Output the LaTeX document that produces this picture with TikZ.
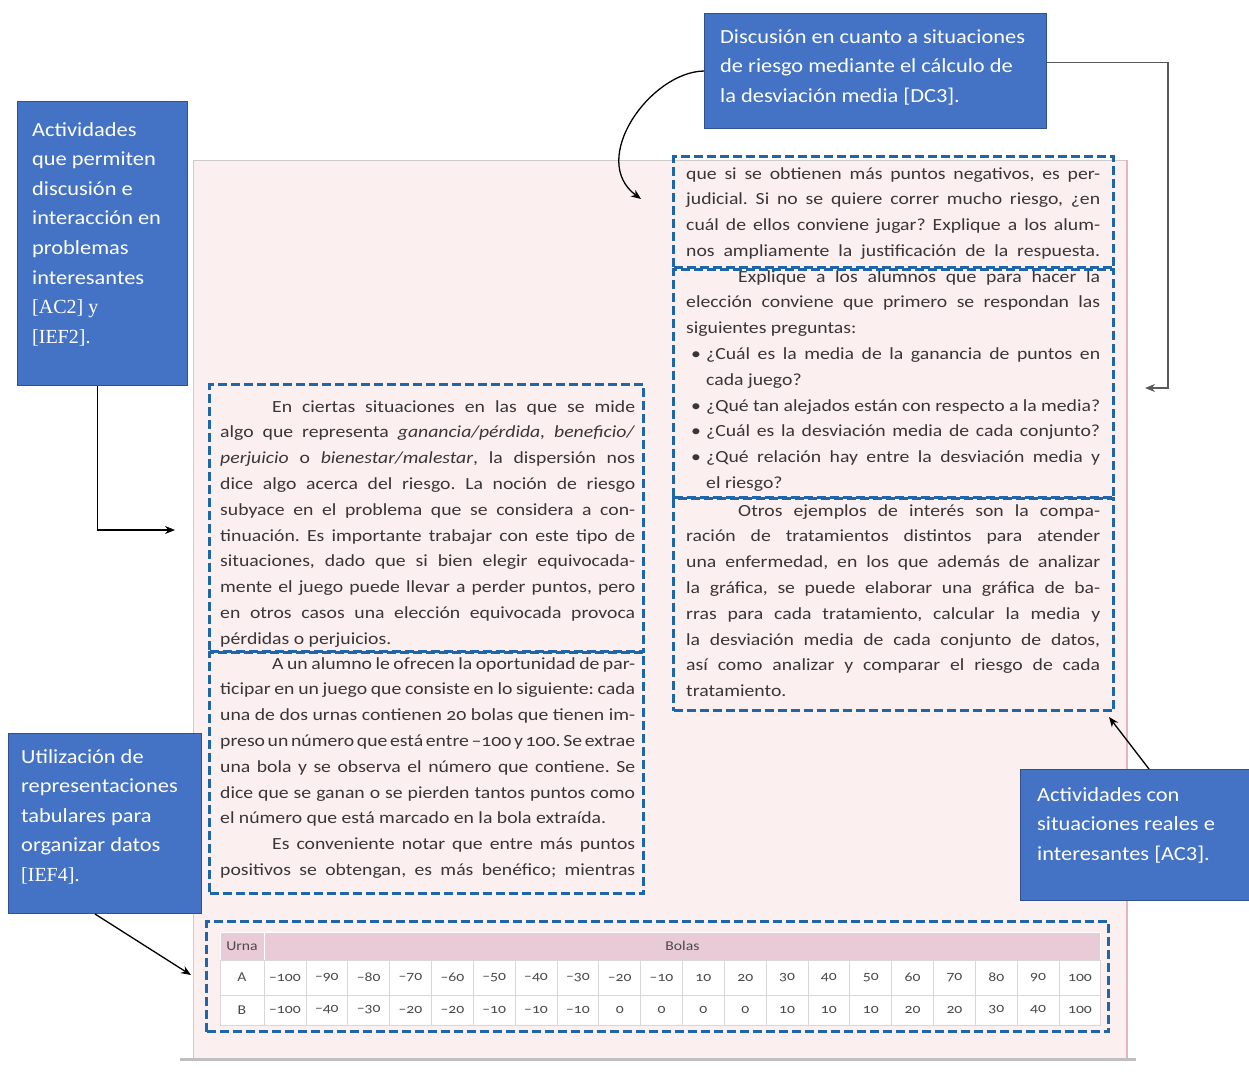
\documentclass[tikz,border=0pt]{standalone}
\usepackage{fontspec}
\setmainfont{Carlito}[Numbers=OldStyle,FakeStretch=1.16]
\newfontfamily\boxfont{Carlito}[FakeStretch=1.12]
\newfontfamily\boxserif{Liberation Serif}
\usetikzlibrary{arrows.meta}
\definecolor{boxblue}{HTML}{4472C4}
\definecolor{boxedge}{HTML}{2F528F}
\definecolor{dashblue}{HTML}{1F65AA}
\definecolor{pagepink}{HTML}{FCEFF0}
\definecolor{headpink}{HTML}{E9CAD7}
\definecolor{bodytext}{HTML}{3A3536}
\definecolor{rimpink}{HTML}{E6B3C3}
\definecolor{cellline}{HTML}{D8D8D8}
\definecolor{celltext}{HTML}{4A4A4A}
\newdimen\myw
\newcommand\myJ[1]{\hbox to \myw{#1}}
\newcommand\myC[1]{\hbox to \myw{\spaceskip=0.16em plus 1em minus 0.05em\relax #1}}
\newcommand\myL[1]{\hbox to \myw{#1\hfil}}
\newcommand\myI{\hskip52pt\relax}
\newcommand\myB{\hbox to 20pt{\hskip5pt•\hfil}}
\begin{document}
\begin{tikzpicture}[x=1pt,y=-1pt,
  para/.style={inner sep=0pt, anchor=base west, text=bodytext, font=\fontsize{17}{25.8}\selectfont\frenchspacing},
  dbox/.style={draw=dashblue, line width=3pt, dash pattern=on 9pt off 4pt, anchor=north west, inner sep=0pt},
  bluebox/.style={fill=boxblue, draw=boxedge, line width=1pt, anchor=north west, inner sep=0pt},
  btext/.style={inner sep=0pt, anchor=base west, text=white, font=\boxfont\fontsize{20}{29.6}\selectfont},
  cell/.style={draw=cellline, fill=white, line width=0.8pt, inner sep=0pt, text=celltext, font=\fontsize{13.5}{14}\selectfont, minimum width=41.84pt},
  hcell/.style={draw=white, fill=headpink, line width=0.8pt, inner sep=0pt, text=celltext, font=\fontsize{13.5}{14}\selectfont, minimum height=28pt},
  conn/.style={black, line width=1.3pt, -{Stealth[length=10pt,width=8pt]}},
  conn2/.style={black!65, line width=1.8pt, -{Stealth[length=10pt,width=8pt]}}
]
\useasboundingbox (0,0) rectangle (1249,1076);
% page
\fill[pagepink] (193,160) rectangle (1128,1058);
\draw[black!20, line width=1pt] (193,1058) -- (193,160) -- (1128,160);
\draw[rimpink, line width=1.5pt] (1127,160) -- (1127,1058);
\draw[black!25, line width=3pt] (180,1059) -- (1136,1059);

% paragraphs
\node[para] (pA) at (220,412) {\myw=415pt\vtop{%
\myJ{\myI En ciertas situaciones en las que se mide}
\myJ{algo que representa \textit{ganancia/pérdida, beneficio/}}
\myJ{\textit{perjuicio} o \textit{bienestar/malestar}, la dispersión nos}
\myJ{dice algo acerca del riesgo. La noción de riesgo}
\myJ{subyace en el problema que se considera a con-}
\myJ{tinuación. Es importante trabajar con este tipo de}
\myJ{situaciones, dado que si bien elegir equivocada-}
\myC{mente el juego puede llevar a perder puntos, pero}
\myJ{en otros casos una elección equivocada provoca}
\myL{pérdidas o perjuicios.}}};

\node[para] (pB) at (220,669) {\myw=415pt\vtop{%
\myC{\myI A un alumno le ofrecen la oportunidad de par-}
\myC{ticipar en un juego que consiste en lo siguiente: cada}
\myC{una de dos urnas contienen 20 bolas que tienen im-}
\myC{preso un número que está entre –100 y 100. Se extrae}
\myJ{una bola y se observa el número que contiene. Se}
\myJ{dice que se ganan o se pierden tantos puntos como}
\myL{el número que está marcado en la bola extraída.}
\myJ{\myI Es conveniente notar que entre más puntos}
\myJ{positivos se obtengan, es más benéfico; mientras}}};

\node[para] (pC) at (686,179) {\myw=414pt\vtop{%
\myJ{que si se obtienen más puntos negativos, es per-}
\myJ{judicial. Si no se quiere correr mucho riesgo, ¿en}
\myJ{cuál de ellos conviene jugar? Explique a los alum-}
\myJ{nos ampliamente la justificación de la respuesta.}}};

\node[para] (pD) at (686,282) {\myw=414pt\vtop{%
\myJ{\myI Explique a los alumnos que para hacer la}
\myJ{elección conviene que primero se respondan las}
\myL{siguientes preguntas:}
\myJ{\myB ¿Cuál es la media de la ganancia de puntos en}
\myL{\hskip20pt cada juego?}
\myC{\myB ¿Qué tan alejados están con respecto a la media?}
\myJ{\myB ¿Cuál es la desviación media de cada conjunto?}
\myJ{\myB ¿Qué relación hay entre la desviación media y}
\myL{\hskip20pt el riesgo?}}};

\node[para] (pE) at (686,516) {\myw=414pt\vtop{%
\myJ{\myI Otros ejemplos de interés son la compa-}
\myJ{ración de tratamientos distintos para atender}
\myJ{una enfermedad, en los que además de analizar}
\myJ{la gráfica, se puede elaborar una gráfica de ba-}
\myJ{rras para cada tratamiento, calcular la media y}
\myJ{la desviación media de cada conjunto de datos,}
\myJ{así como analizar y comparar el riesgo de cada}
\myL{tratamiento.}}};

% table
\node[hcell, minimum width=44pt] (hurna) at (242,946) {Urna};
\node[hcell, minimum width=836.8pt] (hbolas) at (682.4,946) {Bolas};
\node[cell, minimum width=44pt, minimum height=35pt] (la) at (242,977.5) {A};
\node[cell, minimum width=44pt, minimum height=30pt] (lb) at (242,1010) {B};
\foreach \v [count=\i] in {–100,–90,–80,–70,–60,–50,–40,–30,–20,–10,10,20,30,40,50,60,70,80,90,100}
  \node[cell, minimum height=35pt] (ra\i) at ({285+41.84*(\i-1)},977.5) {\v};
\foreach \v [count=\i] in {–100,–40,–30,–20,–20,–10,–10,–10,0,0,0,0,10,10,10,20,20,30,40,100}
  \node[cell, minimum height=30pt] (rb\i) at ({285+41.84*(\i-1)},1010) {\v};

% dashed boxes
\node[dbox, minimum width=434pt, minimum height=267pt] (dA) at (208,383) {};
\node[dbox, minimum width=434pt, minimum height=241pt] (dB) at (208,651) {};
\node[dbox, minimum width=440pt, minimum height=111pt] (dC) at (672,155) {};
\node[dbox, minimum width=440pt, minimum height=228pt] (dD) at (672,268) {};
\node[dbox, minimum width=440pt, minimum height=212pt] (dE) at (672,497) {};
\node[dbox, minimum width=902pt, minimum height=110pt] (dF) at (205,920) {};

% blue annotation boxes
\node[bluebox, minimum width=170pt, minimum height=284pt] (b1) at (17,101) {};
\node[btext] (b1t) at (32,136) {\vtop{\hbox{Actividades}\hbox{que permiten}\hbox{discusión e}\hbox{interacción en}\hbox{problemas}\hbox{interesantes}\hbox{\boxserif [AC2] y}\hbox{\boxserif [IEF2].}}};

\node[bluebox, minimum width=342pt, minimum height=115pt] (b2) at (704,13) {};
\node[btext] (b2t) at (720,43) {\vtop{\hbox{Discusión en cuanto a situaciones}\hbox{de riesgo mediante el cálculo de}\hbox{la desviación media [DC3].}}};

\node[bluebox, minimum width=193pt, minimum height=180pt] (b3) at (8,733) {};
\node[btext] (b3t) at (21,763) {\vtop{\hbox{Utilización de}\hbox{representaciones}\hbox{tabulares para}\hbox{organizar datos}\hbox{\boxserif [IEF4].}}};

\node[bluebox, minimum width=229pt, minimum height=131pt] (b4) at (1020,769) {};
\node[btext] (b4t) at (1037,801) {\vtop{\hbox{Actividades con}\hbox{situaciones reales e}\hbox{interesantes [AC3].}}};

% connectors
\coordinate (t1) at (175,530);
\coordinate (k2) at (1168,388);
\coordinate (t2) at (1145,388);
\coordinate (t3) at (641,199);
\coordinate (t4) at (191,975);
\coordinate (t5) at (1109,717);
\draw[conn] ([xshift=-5pt]b1.south) |- (t1);
\draw[conn2] ([yshift=8.5pt]b2.east) -| (k2) -- (t2);
\draw[conn] (b2.west) .. controls (650,72) and (588,160) .. (t3);
\draw[conn] ([xshift=-10pt]b3.south) -- (t4);
\draw[conn] ([xshift=14pt]b4.north) -- (t5);
\end{tikzpicture}
\end{document}
